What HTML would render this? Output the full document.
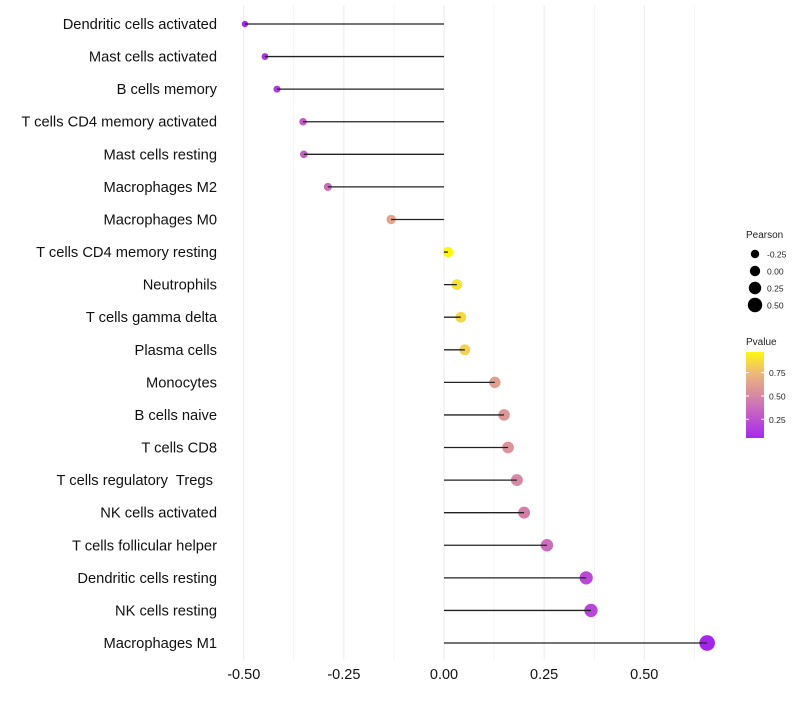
<!DOCTYPE html>
<html><head><meta charset="utf-8"><style>
body{margin:0;background:#fff;font-family:"Liberation Sans",sans-serif}
svg text{font-family:"Liberation Sans",sans-serif;white-space:pre}
</style></head><body>
<svg id="chart" width="800" height="700"></svg>
<script>
const categories=["Dendritic cells activated","Mast cells activated","B cells memory","T cells CD4 memory activated","Mast cells resting","Macrophages M2","Macrophages M0","T cells CD4 memory resting","Neutrophils","T cells gamma delta","Plasma cells","Monocytes","B cells naive","T cells CD8","T cells regulatory  Tregs ","NK cells activated","T cells follicular helper","Dendritic cells resting","NK cells resting","Macrophages M1"];
const pearson=[-0.497,-0.447,-0.417,-0.352,-0.35,-0.29,-0.132,0.01,0.032,0.042,0.052,0.127,0.15,0.16,0.182,0.2,0.257,0.355,0.367,0.657];
const pvalue=[0.05,0.1,0.15,0.3,0.32,0.38,0.65,0.97,0.9,0.86,0.83,0.62,0.58,0.56,0.5,0.46,0.38,0.22,0.2,0.03];
const xTicks=[-0.5,-0.25,0,0.25,0.5];
const xTickLabels=["-0.50","-0.25","0.00","0.25","0.50"];
const sizeLegend=[-0.25,0,0.25,0.5];
const pLegend=[0.25,0.5,0.75];
const NS="http://www.w3.org/2000/svg";
const svg=document.getElementById("chart");
const x=v=>444+v*400.5;
const y=i=>24+i*(643-24)/19;
const r=v=>5.2+4*v;
function col(p){
 const stops=[[0,[160,32,240]],[0.25,[190,80,210]],[0.5,[215,135,165]],[0.75,[238,185,120]],[1,[255,255,0]]];
 for(let i=0;i<stops.length-1;i++){const [a,ca]=stops[i],[b,cb]=stops[i+1];
  if(p<=b){const t=(p-a)/(b-a);return "rgb("+ca.map((c,k)=>Math.round(c+(cb[k]-c)*t)).join(",")+")";}}
 return "rgb(255,255,0)";}
function el(t,a,parent){const e=document.createElementNS(NS,t);for(const k in a)e.setAttribute(k,a[k]);(parent||svg).appendChild(e);return e;}
const grid=[-0.5,-0.375,-0.25,-0.125,0,0.125,0.25,0.375,0.5,0.625];
grid.forEach(g=>{const l=el("line",{x1:x(g),x2:x(g),y1:5,y2:660,stroke:"#ebebeb","stroke-width":Number.isInteger(g*4)?1:0.6});

});
xTicks.forEach((t,i)=>{const tx=el("text",{x:x(t),y:679,"text-anchor":"middle","font-size":14.5,fill:"#111"});tx.textContent=xTickLabels[i];

});
categories.forEach((c,i)=>{
 const t=el("text",{x:217,y:y(i)+5,"text-anchor":"end","font-size":14.7,fill:"#111"});t.textContent=c;
 
 
 const d=el("circle",{cx:x(pearson[i]),cy:y(i),r:r(pearson[i]),fill:col(pvalue[i])});
 
 
 const l=el("line",{x1:x(0),x2:x(pearson[i]),y1:y(i),y2:y(i),stroke:"#222","stroke-width":1.3});
 
 
});
const lt=el("text",{x:746,y:238,"font-size":10,fill:"#222"});lt.textContent="Pearson";


sizeLegend.forEach((v,i)=>{const cy=254+i*17;
 const c=el("circle",{cx:755,cy:cy,r:r(v),fill:"#000"});
 
 
 const t=el("text",{x:767,y:cy+3.5,"font-size":8.5,fill:"#222"});t.textContent=v.toFixed(2);
 
 });
const pt=el("text",{x:746,y:345,"font-size":10,fill:"#222"});pt.textContent="Pvalue";


const defs=el("defs",{});const lg=el("linearGradient",{id:"pg",x1:0,y1:1,x2:0,y2:0},defs);
[0,0.25,0.5,0.75,1].forEach(o=>el("stop",{offset:o,"stop-color":col(0.05+o*0.92)},lg));
const bar=el("rect",{x:746,y:352,width:18,height:86,fill:"url(#pg)"});


const py=p=>438-(p-0.05)/0.92*86;
pLegend.forEach(p=>{el("line",{x1:746,x2:749,y1:py(p),y2:py(p),stroke:"#fff"});el("line",{x1:761,x2:764,y1:py(p),y2:py(p),stroke:"#fff"});
 const t=el("text",{x:769,y:py(p)+3.5,"font-size":8.5,fill:"#222"});t.textContent=p.toFixed(2);
 
 });
</script>
</body></html>
